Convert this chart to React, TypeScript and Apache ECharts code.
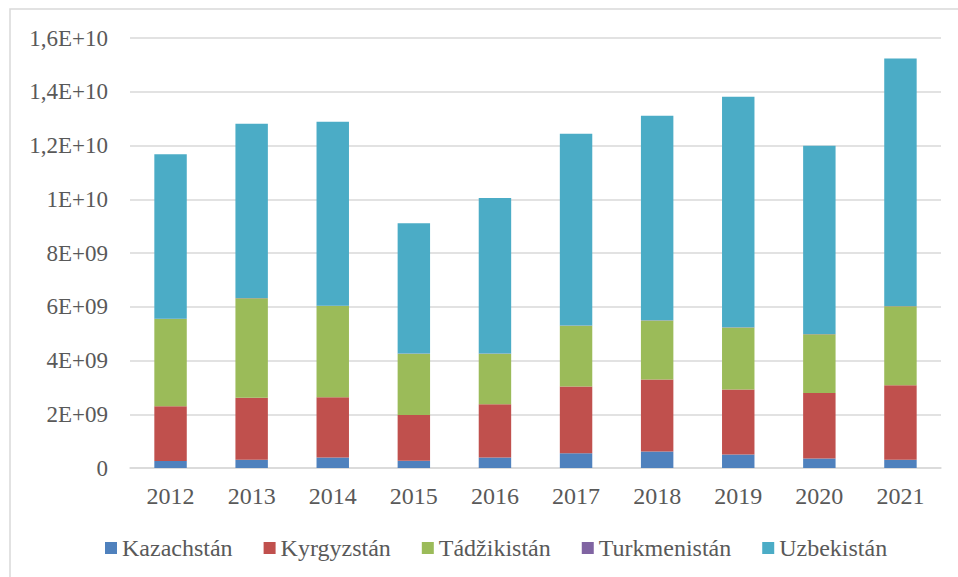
import React, { useEffect, useRef } from "react";
import * as echarts from "echarts";

const years = ["2012", "2013", "2014", "2015", "2016", "2017", "2018", "2019", "2020", "2021"];
const kazachstan = [0.26e9, 0.31e9, 0.39e9, 0.27e9, 0.39e9, 0.55e9, 0.61e9, 0.5e9, 0.35e9, 0.31e9];
const kyrgyzstan = [2.04e9, 2.3e9, 2.24e9, 1.7e9, 1.98e9, 2.48e9, 2.68e9, 2.42e9, 2.44e9, 2.77e9];
const tadzikistan = [3.24e9, 3.71e9, 3.4e9, 2.28e9, 1.88e9, 2.26e9, 2.2e9, 2.31e9, 2.19e9, 2.94e9];
const turkmenistan = [0.01e9, 0.01e9, 0.01e9, 0.01e9, 0.01e9, 0.01e9, 0.01e9, 0.01e9, 0.01e9, 0.01e9];
const uzbekistan = [6.12e9, 6.48e9, 6.84e9, 4.85e9, 5.79e9, 7.14e9, 7.61e9, 8.57e9, 7.0e9, 9.21e9];
const yTickLabels = ["0", "2E+09", "4E+09", "6E+09", "8E+09", "1E+10", "1,2E+10", "1,4E+10", "1,6E+10"];

const seriesDefs = [
  { name: "Kazachstán", data: kazachstan, color: "#4f81bd" },
  { name: "Kyrgyzstán", data: kyrgyzstan, color: "#c0504d" },
  { name: "Tádžikistán", data: tadzikistan, color: "#9bbb59" },
  { name: "Turkmenistán", data: turkmenistan, color: "#8064a2" },
  { name: "Uzbekistán", data: uzbekistan, color: "#4bacc6" },
];

const FONT = "'Liberation Serif', 'Times New Roman', serif";

export default function App() {
  const ref = useRef<HTMLDivElement>(null);
  useEffect(() => {
    if (!ref.current) return;
    const chart = echarts.init(ref.current, undefined, { renderer: "svg" });
    chart.setOption({
      animation: false,
      backgroundColor: "#ffffff",
      graphic: [
        {
          type: "rect",
          shape: { x: 10, y: 9, width: 1000, height: 620 },
          style: { fill: "none", stroke: "#d9d9d9", lineWidth: 1.5 },
          silent: true,
          z: -1,
        },
      ],
      grid: { left: 130, right: 17, top: 38, bottom: 109, containLabel: false },
      legend: {
        left: 105,
        top: 536,
        padding: 0,
        itemWidth: 12,
        itemHeight: 12,
        itemGap: 31,
        icon: "rect",
        textStyle: { fontFamily: FONT, fontSize: 24, color: "#595959" },
        data: seriesDefs.map((s) => s.name),
      },
      xAxis: {
        type: "category",
        data: years,
        axisLine: { show: true, lineStyle: { color: "#d9d9d9", width: 1.5 } },
        axisTick: { show: false },
        axisLabel: { fontFamily: FONT, fontSize: 24, color: "#595959", margin: 16 },
      },
      yAxis: {
        type: "value",
        min: 0,
        max: 1.6e10,
        interval: 2e9,
        axisLine: { show: false },
        axisTick: { show: false },
        splitLine: { lineStyle: { color: "#d9d9d9", width: 1.5 } },
        axisLabel: {
          fontFamily: FONT,
          fontSize: 23,
          color: "#595959",
          margin: 22,
          formatter: (v: number) => yTickLabels[Math.round(v / 2e9)] ?? "",
        },
      },
      series: seriesDefs.map((s) => ({
        name: s.name,
        type: "bar",
        stack: "total",
        data: s.data,
        barWidth: "40%",
        itemStyle: { color: s.color },
      })),
    });
    return () => chart.dispose();
  }, []);
  return <div ref={ref} style={{ position: "absolute", left: 0, top: 0, width: 958, height: 577 }} />;
}
